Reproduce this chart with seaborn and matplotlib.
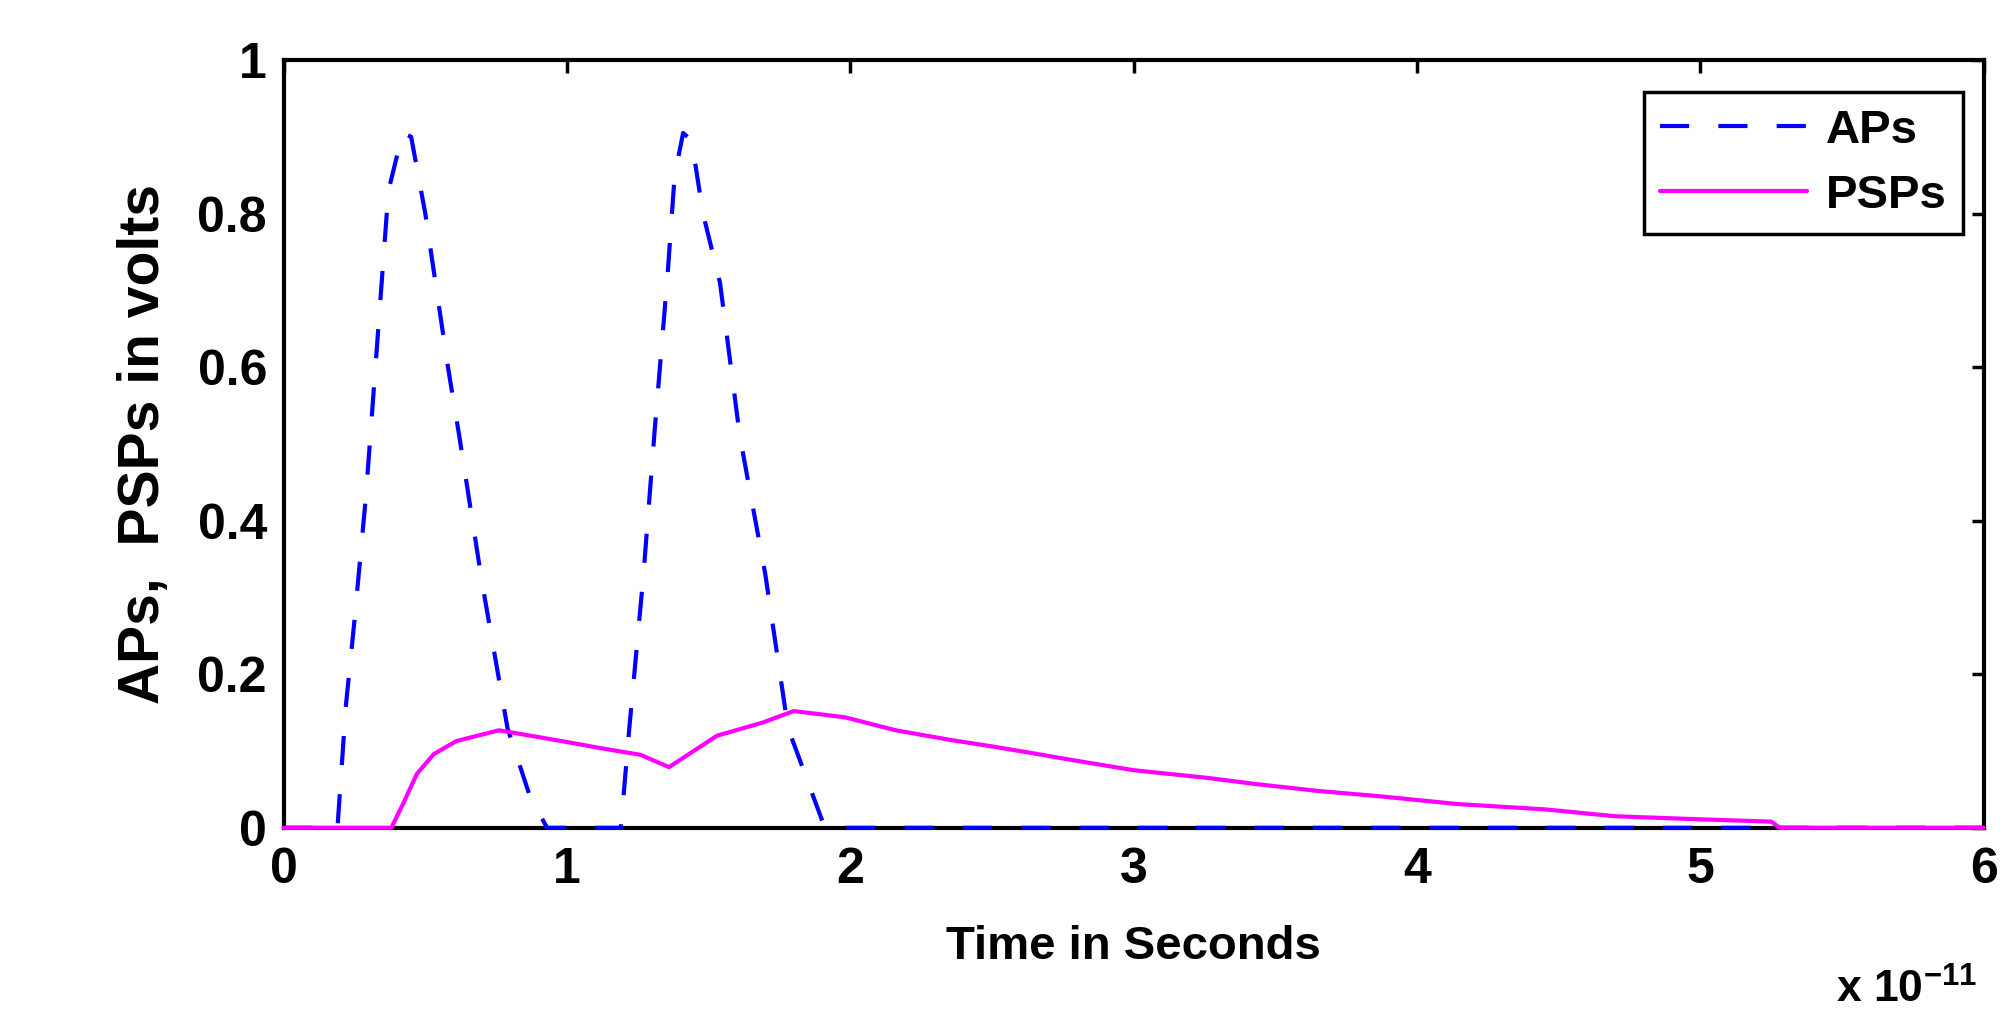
import matplotlib
matplotlib.use("Agg")
import matplotlib.pyplot as plt
import seaborn as sns
import pandas as pd
from matplotlib import font_manager

# ---- data (time in units of 1e-11 s, voltage in volts) ----
ap_t = [0, 0.19, 0.22, 0.25, 0.29, 0.33, 0.37, 0.42, 0.45, 0.50, 0.58, 0.62, 0.70, 0.79, 0.87, 0.93,
        1.19, 1.22, 1.27, 1.31, 1.355, 1.38, 1.41, 1.44, 1.48, 1.54, 1.61, 1.70, 1.78, 1.86, 1.91, 6.0]
ap_v = [0, 0, 0.16, 0.27, 0.43, 0.63, 0.83, 0.905, 0.90, 0.80, 0.60, 0.51, 0.32, 0.13, 0.04, 0,
        0, 0.13, 0.33, 0.52, 0.72, 0.85, 0.905, 0.895, 0.80, 0.71, 0.51, 0.33, 0.13, 0.05, 0, 0]

psp_t = [0, 0.38, 0.42, 0.47, 0.53, 0.61, 0.76, 0.98, 1.13, 1.26, 1.36, 1.53, 1.69, 1.80, 1.98, 2.16,
         2.36, 2.50, 2.63, 2.77, 3.00, 3.26, 3.43, 3.65, 3.87, 4.14, 4.45, 4.70, 5.00, 5.25, 5.28, 6.0]
psp_v = [0, 0, 0.03, 0.07, 0.096, 0.113, 0.127, 0.113, 0.103, 0.095, 0.079, 0.12, 0.137, 0.152, 0.144, 0.127,
         0.114, 0.106, 0.098, 0.089, 0.075, 0.065, 0.057, 0.048, 0.041, 0.031, 0.024, 0.015, 0.011, 0.008, 0, 0]

x_ticks = [0, 1, 2, 3, 4, 5, 6]
y_ticks = [0, 0.2, 0.4, 0.6, 0.8, 1]
y_tick_labels = ["0", "0.2", "0.4", "0.6", "0.8", "1"]
series_names = ["APs", "PSPs"]
x_label = "Time in Seconds"
y_label = "APs,  PSPs in volts"
x_mult = r"x 10$^{-11}$"

sns.set_style("white")
names = {f.name for f in font_manager.fontManager.ttflist}
fam = "Liberation Sans Narrow" if "Liberation Sans Narrow" in names else "Liberation Sans"
plt.rcParams["font.family"] = [fam, "DejaVu Sans"]
plt.rcParams["font.weight"] = "bold"
plt.rcParams["text.color"] = "black"
plt.rcParams["axes.labelcolor"] = "black"
plt.rcParams["xtick.color"] = "black"
plt.rcParams["ytick.color"] = "black"
plt.rcParams["mathtext.fontset"] = "custom"
plt.rcParams["mathtext.rm"] = fam + ":bold"
plt.rcParams["mathtext.default"] = "rm"

fig = plt.figure(figsize=(20.03, 10.09), dpi=100)
ax = fig.add_axes([0.1416, 0.1796, 0.8488, 0.7609])

df_ap = pd.DataFrame({"t": ap_t, "v": ap_v})
df_psp = pd.DataFrame({"t": psp_t, "v": psp_v})

LW = 3.0
DASH = (7, 7)
sns.lineplot(data=df_ap, x="t", y="v", ax=ax, color="#0000FF", linewidth=LW,
             label=series_names[0], sort=False, estimator=None)
sns.lineplot(data=df_psp, x="t", y="v", ax=ax, color="#FF00FF", linewidth=LW,
             label=series_names[1], sort=False, estimator=None)
ax.lines[0].set_dashes(DASH)
for ln in ax.lines:
    ln.set_clip_on(False)
    ln.set_zorder(3)

ax.set_xlim(0, 6)
ax.set_ylim(0, 1)
ax.set_xticks(x_ticks)
ax.set_xticklabels([str(v) for v in x_ticks])
ax.set_yticks(y_ticks)
ax.set_yticklabels(y_tick_labels)
ax.tick_params(direction="in", length=9, width=2.5, top=True, right=True,
               labelsize=36, colors="black")
ax.tick_params(axis="x", pad=14)
ax.tick_params(axis="y", pad=12)
for lab in ax.get_xticklabels() + ax.get_yticklabels():
    lab.set_fontweight("bold")
for sp in ax.spines.values():
    sp.set_visible(True)
    sp.set_color("black")
    sp.set_linewidth(3)
    sp.set_zorder(2.5)

ax.set_xlabel(x_label, fontsize=34, fontweight="bold")
ax.xaxis.set_label_coords(0.5, -0.127)
ax.set_ylabel(y_label, fontsize=41, fontweight="bold")
ax.yaxis.set_label_coords(-0.066, 0.5)
fig.text(0.987, 0.006, x_mult, fontsize=32, fontweight="bold", ha="right", va="baseline")

leg = ax.legend(loc="upper right", bbox_to_anchor=(0.9878, 0.9583), borderaxespad=0,
                fontsize=34, handlelength=3.1, handletextpad=0.4, borderpad=0.35,
                labelspacing=0.45, frameon=True, fancybox=False, framealpha=1)
leg.get_frame().set_edgecolor("black")
leg.get_frame().set_linewidth(2.5)
for t in leg.get_texts():
    t.set_fontweight("bold")
leg.get_lines()[0].set_dashes(DASH)

fig.savefig("out.png", dpi=100, facecolor="white")
